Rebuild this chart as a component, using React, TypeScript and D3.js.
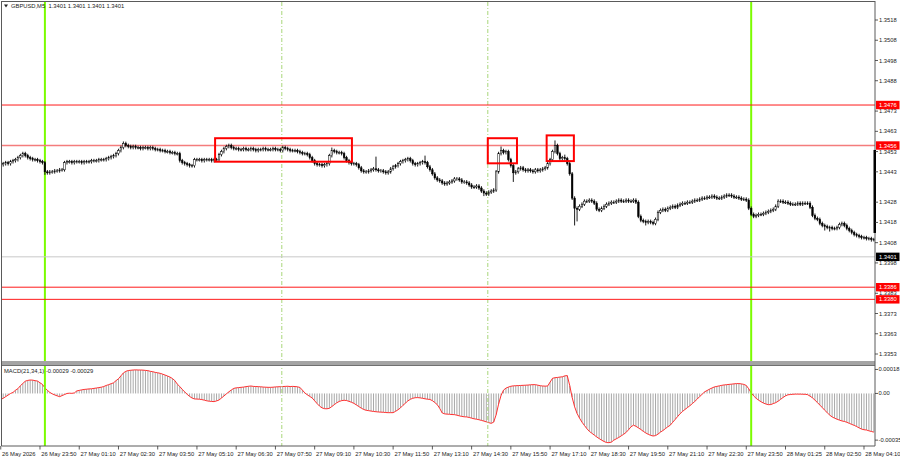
import React from 'react';
import * as d3 from 'd3';

// ---- data (prices in pips above 1.3400, one per M5 bar) ----
const closePips: number[] = [
  46.5, 47, 47.5, 47, 48, 48.5, 49, 50, 51, 52, 51,
  50, 49.5, 49, 49, 48.5, 48, 47.5, 43, 42.5, 43,
  43, 43.5, 43.5, 44, 44, 47.5, 48, 48, 47.5, 48,
  48, 48, 47.5, 48, 48, 48, 48.5, 48.5, 48.5, 49,
  49, 49, 49.5, 50, 50.5, 51, 52, 53.5, 55, 57,
  56, 55.5, 55, 55.5, 55, 55, 54.5, 55, 55, 54.5,
  55, 54.5, 54, 54, 53.5, 53.5, 53, 53, 52.5, 52.5,
  52, 52, 48.5, 47.5, 47, 46.5, 46, 46, 49, 49,
  49, 48.5, 49, 49, 49, 48.5, 49, 49, 51.5, 53,
  54.5, 55.5, 56, 55, 54.5, 54.5, 54, 54, 54.5, 54,
  54, 54.5, 54, 53.5, 54, 54, 54.5, 54, 54,
  54, 54.5, 54, 54, 53.5, 55, 54.5, 54, 53.5, 53.5,
  53.5, 53, 52.5, 52, 52, 51.5, 50, 48.5, 47, 46.5,
  46.5, 46, 46.5, 47, 51, 53.5, 53, 52.5, 52.5, 52,
  50, 48.5, 47.5, 47, 47, 46.5, 45, 43.5, 43, 43,
  43.5, 44, 44.5, 44, 43.5, 43.5, 43, 42.5, 43, 44.5,
  45.5, 46, 47, 48, 48.5, 49, 49.5, 48.5, 47, 46.5,
  47, 47.5, 48, 47.5, 45.5, 44, 42, 40, 39, 38.5,
  37.5, 37, 37.5, 38, 38.5, 39.5, 39.5, 39, 38, 38,
  37.5, 36.5, 35.5, 35.5, 36, 35, 33.5, 32.5, 32, 33,
  33.5, 34, 43, 52, 53.5, 52.5, 53, 49, 46, 42.5,
  43, 44.5, 45, 44, 43.5, 44, 43.5, 43, 44, 43.5,
  44, 44.5, 45, 47, 49, 53, 56, 52, 49.5, 50,
  49.5, 47, 42, 30, 25, 24.5, 26, 27, 28.5, 28.5,
  29, 28.5, 27.5, 24.5, 24, 25, 26, 27, 27.5, 28,
  28, 28.5, 29, 28.5, 28.5, 29, 28.5, 28.5, 29, 28,
  21, 19, 18.5, 18, 18.5, 18, 17.5, 19.5, 23, 24,
  24.5, 24, 25, 25.5, 26, 25.5, 26.5, 27, 27.5, 27.5,
  28, 28, 28.5, 29, 29, 29.5, 30, 30, 30.5, 30.5,
  31, 30.5, 30, 30, 30.5, 31, 31.5, 31.5, 31, 30.5,
  30.5, 30, 29.5, 29.5, 29, 25, 22, 21, 21.5, 22,
  22, 22.5, 23, 23.5, 24, 24.5, 26, 28.5, 28.5, 28,
  28, 27.5, 27, 27, 27, 27.5, 27, 27.5, 27.5, 27.5,
  25.5, 21.5, 20, 19.5, 17.5, 16.5, 16, 15.5, 15.5, 15,
  15, 15.5, 17, 17.5, 16.5, 15, 14, 13, 12, 11.5,
  11, 10.5, 10.5, 10, 10, 9.5, 9.5,
];

// notable wick extremes: [bar index, pips]
const wickHighs: [number, number][] = [
  [50, 58], [135, 55], [153, 50.5], [173, 51], [204, 55.5], [226, 58.5], [230, 51.5],
];
const wickLows: [number, number][] = [
  [18, 41.5], [197, 31], [209, 38], [234, 16.5], [235, 18.5], [263, 16.5], [336, 14], [338, 13.5], [355, 8.5],
];
const wickPips = 0.9;

// MACD(21,34,1), in units of 0.00001, one per bar
const macdVals: number[] = [
  -4.4, -3.6, -2.4, -1.2, 0, 0.8, 2.4, 3.6, 5.8, 7.5, 9.2,
  9.8, 10.1, 10, 9.6, 9.3, 8, 6.8, 4.2, 2.4, 0.8,
  -0.3, -1.1, -1.8, -2.4, -1.6, -0.8, 0, 0.2, 0.1, 0.4,
  1.9, 2.3, 2.7, 3, 3.2, 3.4, 3.5, 3.8, 4.1, 4.4,
  4.7, 5.2, 6, 6.6, 7.3, 8, 9.6, 11, 13.2, 15.4,
  16.6, 17.2, 17.4, 17.6, 17.7, 17.6, 17.6, 17.5, 17.3, 17.1,
  16.6, 16.3, 15.8, 15.5, 15.1, 14.5, 13.8, 13.1, 12.3, 11.2,
  9.6, 7, 5.2, 3.1, 1.2, -0.6, -2.2, -3.4, -4.1, -4.2,
  -4.3, -4.6, -5, -5.5, -5.8, -6, -6.1, -5.6, -4.9, -3.4,
  -1.9, -0.3, 1.2, 2.6, 3.8, 4.2, 4.4, 4.6, 4.8, 5.1,
  5.4, 5.6, 5.3, 5.2, 5.1, 5, 4.8, 4.7, 4.6,
  4.6, 4.7, 4.9, 5, 5.1, 5.2, 5.3, 5.4, 5.2, 5.3,
  5.2, 5, 4.5, 2.5, 0.4, -1, -2.2, -3.4, -5.5, -7.6,
  -9.5, -10.8, -11.4, -11.5, -11.1, -9.8, -8.4, -7, -6, -5.4,
  -5.1, -5.3, -5.9, -6.6, -7.4, -8.6, -9.8, -11, -12, -12.6,
  -12.9, -13.2, -13.5, -13.7, -13.9, -14, -14.1, -14.3, -14.4, -14.4,
  -14.4, -13.4, -12.2, -10.8, -8.9, -7.3, -5.6, -4.4, -3.6, -3.2,
  -3.1, -3.3, -3.6, -4, -4.3, -4.5, -5.4, -6.8, -8.4, -11.2,
  -14.6, -15.3, -15.5, -15.6, -15.8, -15.9, -16.3, -16.8, -17.2, -17.5,
  -17.6, -18, -18.5, -19, -19.3, -19.7, -20.2, -20.7, -21.3, -21.9,
  -22.4, -21.5, -16, -8, -1.5, 2.5, 4, 4.8, 5.4, 5.7,
  5.8, 5.9, 6, 6.1, 6.2, 6.3, 6.5, 6.6, 6.6, 6.2,
  5.8, 5.6, 5.5, 5.6, 8.5, 11.4, 11.8, 12, 12.3, 12.5,
  13.2, 13.4, 6, -3, -10, -15, -18.5, -21.5, -24, -26.4,
  -28.4, -29.8, -31.2, -32.6, -33.8, -35, -36, -36.8, -36.9, -36.5,
  -35, -34, -33, -31.8, -30.6, -29.2, -27.2, -25, -23.8, -24.6,
  -25.8, -27, -28.4, -29.6, -30.6, -31.4, -31.9, -31.6, -30.5, -29,
  -27.8, -26.4, -25, -23.8, -21.6, -19.5, -17.3, -15.2, -13.5, -12,
  -10.6, -9.2, -7.6, -6, -4.2, -2.3, -0.6, 1.2, 2.2, 3.2,
  4.1, 4.9, 5.3, 5.7, 6.1, 6.4, 6.6, 6.8, 7, 7.2,
  7.4, 7.4, 7.2, 6.8, 6, 3.5, 0.5, -1.8, -3.6, -5,
  -6.2, -7.2, -7.9, -8.4, -8.3, -7.6, -6.9, -5.8, -4.4, -3,
  -1.8, -1, -0.8, -0.6, -0.5, -0.5, -0.5, -0.6, -0.6, -0.9,
  -2, -3.3, -5, -6.8, -8.7, -10.6, -12.6, -14.4, -16.2, -17.6,
  -18.5, -19.3, -20, -20.6, -21, -21.6, -22.4, -23.2, -23.9, -24.8,
  -25.8, -26.7, -27.2, -27.4, -28, -28.5, -29,
];

const timeLabels: string[] = [
  '26 May 2026', '26 May 23:50', '27 May 01:10', '27 May 02:30', '27 May 03:50', '27 May 05:10',
  '27 May 06:30', '27 May 07:50', '27 May 09:10', '27 May 10:30', '27 May 11:50', '27 May 13:10',
  '27 May 14:30', '27 May 15:50', '27 May 17:10', '27 May 18:30', '27 May 19:50', '27 May 21:10',
  '27 May 22:30', '27 May 23:50', '28 May 01:25', '28 May 02:50', '28 May 04:10',
];
const barsPerLabel = 16;

const priceTicks: number[] = [
  1.3518, 1.3508, 1.3498, 1.3488, 1.3473, 1.3463, 1.3453, 1.3443, 1.3428, 1.3418,
  1.3408, 1.3398, 1.3383, 1.3373, 1.3363, 1.3353,
];
const levelPrices: number[] = [1.3476, 1.3456, 1.3386, 1.3380];
const bidPrice = 1.3401;
const macdTicks: number[] = [18, 0, -35];
const macdTickLabels: string[] = ['0.00018', '0.00', '-0.00035'];
const dayMarks: number[] = [18, 306];
const sessionMarks: number[] = [114.6, 198.6];
// boxes: [start bar, end bar, top price, bottom price]
const boxes: [number, number, number, number][] = [
  [87.4, 143.2, 1.34596, 1.3448],
  [198.6, 210.5, 1.34596, 1.34472],
  [222.6, 233.7, 1.3461, 1.34483],
];
const edgeBar: [number, number] = [1.34538, 1.34128];
const headerValues = '1.3401 1.3401 1.3401 1.3401';
const macdHeader = 'MACD(21,34,1) -0.00029 -0.00029';

const FONT = "'Liberation Sans', Arial, sans-serif";
const FS = 5.8;

export default function App() {
  const x = d3.scaleLinear().domain([0, 356]).range([0.76, 873.8]);
  const y = d3.scaleLinear().domain([1.3518, 1.3353]).range([20, 354]);
  const ym = d3.scaleLinear().domain([20.6, -37.9]).range([366, 444]);
  const P = (q: number) => 1.34 + q * 0.0001;

  const hiMap = new Map(wickHighs);
  const loMap = new Map(wickLows);
  const candles = closePips.map((c, i) => {
    const o = i === 0 ? c : closePips[i - 1];
    const h = hiMap.has(i) ? hiMap.get(i)! : Math.max(o, c) + wickPips;
    const l = loMap.has(i) ? loMap.get(i)! : Math.min(o, c) - wickPips;
    return { i, o: P(o), c: P(c), h: P(h), l: P(l) };
  });

  const macdLine = d3.line<number>().x((_, i) => x(i)).y((v) => ym(v))(macdVals) || '';
  const axisX = 875;
  const mainBottom = 361;
  const macdBottom = 446;

  return (
    <svg width={900} height={460} style={{ position: 'absolute', left: 0, top: 0, background: '#fff' }}
      fontFamily={FONT}>
      <rect x={0} y={0} width={900} height={460} fill="#fff" />
      <defs>
        <clipPath id="mainClip"><rect x={2} y={2} width={axisX - 2} height={mainBottom - 2} /></clipPath>
        <clipPath id="macdClip"><rect x={2} y={366} width={axisX - 2} height={macdBottom - 366} /></clipPath>
      </defs>

      {/* MACD */}
      <g clipPath="url(#macdClip)">
        {macdVals.map((v, i) => (
          <line key={'h' + i} x1={x(i)} x2={x(i)} y1={ym(0)} y2={ym(v)} stroke="#a8a8a8" strokeWidth={1} />
        ))}
        <path d={macdLine} fill="none" stroke="#ff3030" strokeWidth={1} />
      </g>

      {/* vertical markers */}
      {sessionMarks.map((m, k) => (
        <line key={'s' + k} x1={x(m)} x2={x(m)} y1={2} y2={macdBottom} stroke="#a9d67a" strokeWidth={1}
          strokeDasharray="4,2,1,2" />
      ))}
      {dayMarks.map((m, k) => (
        <line key={'d' + k} x1={x(m)} x2={x(m)} y1={2} y2={macdBottom} stroke="#7cfc00" strokeWidth={2} />
      ))}

      {/* horizontal levels */}
      <line x1={2} x2={axisX} y1={y(bidPrice)} y2={y(bidPrice)} stroke="#c8c8c8" strokeWidth={1} />
      {levelPrices.map((p, k) => (
        <line key={'l' + k} x1={2} x2={axisX} y1={y(p)} y2={y(p)}
          stroke={k === 1 ? '#f47c7c' : '#ff1a1a'} strokeWidth={k === 1 ? 1.4 : 1} />
      ))}

      {/* candles */}
      <g clipPath="url(#mainClip)">
        {candles.map((d) => {
          const cx = x(d.i);
          const top = y(Math.max(d.o, d.c));
          const bot = y(Math.min(d.o, d.c));
          const bull = d.c >= d.o;
          return (
            <g key={d.i}>
              <line x1={cx} x2={cx} y1={y(d.h)} y2={y(d.l)} stroke="#000" strokeWidth={0.9} />
              <rect x={cx - 0.8} y={top} width={1.6} height={Math.max(bot - top, 0.8)}
                fill={bull ? '#fff' : '#000'} stroke="#000" strokeWidth={0.5} />
            </g>
          );
        })}
      </g>

      {/* boxes */}
      {boxes.map((b, k) => (
        <rect key={'b' + k} x={x(b[0])} y={y(b[2])} width={x(b[1]) - x(b[0])} height={y(b[3]) - y(b[2])}
          fill="none" stroke="#ff0000" strokeWidth={2} />
      ))}

      {/* panel separator */}
      <rect x={2} y={mainBottom} width={axisX - 2} height={4.5} fill="#a4a4a4" />
      <line x1={2} x2={axisX} y1={mainBottom + 4.5} y2={mainBottom + 4.5} stroke="#707070" strokeWidth={1} />

      {/* frame */}
      <line x1={1.5} x2={1.5} y1={1} y2={macdBottom} stroke="#5a5a5a" strokeWidth={1} />
      <line x1={1.5} x2={axisX} y1={1.5} y2={1.5} stroke="#5a5a5a" strokeWidth={1} />
      <line x1={axisX} x2={axisX} y1={1} y2={macdBottom} stroke="#5a5a5a" strokeWidth={1} />
      <line x1={1.5} x2={axisX} y1={macdBottom} y2={macdBottom} stroke="#5a5a5a" strokeWidth={1} />
      <rect x={axisX - 1.5} y={y(edgeBar[0])} width={2.5} height={y(edgeBar[1]) - y(edgeBar[0])} fill="#000" />

      {/* price axis */}
      {priceTicks.map((p, k) => (
        <g key={'pt' + k}>
          <line x1={axisX} x2={axisX + 3} y1={y(p)} y2={y(p)} stroke="#333" strokeWidth={0.8} />
          <text x={axisX + 4} y={y(p)} dy="0.35em" fontSize={FS} fill="#222">{p.toFixed(4)}</text>
        </g>
      ))}
      {levelPrices.map((p, k) => (
        <g key={'pl' + k}>
          <rect x={axisX + 1} y={y(p) - 4.2} width={23.5} height={8.4} fill="#ff0000" />
          <text x={axisX + 4} y={y(p)} dy="0.35em" fontSize={FS} fill="#fff">{p.toFixed(4)}</text>
        </g>
      ))}
      <rect x={axisX + 1} y={y(bidPrice) - 4.2} width={23.5} height={8.4} fill="#000" />
      <text x={axisX + 4} y={y(bidPrice)} dy="0.35em" fontSize={FS} fill="#fff">{bidPrice.toFixed(4)}</text>

      {/* macd axis */}
      {macdTicks.map((v, k) => (
        <g key={'mt' + k}>
          <line x1={axisX} x2={axisX + 3} y1={ym(v)} y2={ym(v)} stroke="#333" strokeWidth={0.8} />
          <text x={axisX + 3.5} y={ym(v)} dy="0.35em" fontSize={FS} fill="#222">{macdTickLabels[k]}</text>
        </g>
      ))}

      {/* time axis */}
      {timeLabels.map((t, k) => {
        const tx = x(k * barsPerLabel);
        return (
          <g key={'t' + k}>
            <line x1={tx} x2={tx} y1={macdBottom} y2={macdBottom + 3.5} stroke="#333" strokeWidth={0.8} />
            <text x={tx + 1.3} y={455.5} fontSize={FS} fill="#222">{t}</text>
          </g>
        );
      })}

      {/* headers */}
      <path d="M4,4.5 L8,4.5 L6,7.5 Z" fill="#222" />
      <text x={11} y={8.3} fontSize={FS} fill="#222">GBPUSD,M5</text>
      <text x={48.5} y={8.3} fontSize={FS} fill="#222">{headerValues}</text>
      <text x={4} y={373} fontSize={FS} fill="#222">{macdHeader}</text>
    </svg>
  );
}
